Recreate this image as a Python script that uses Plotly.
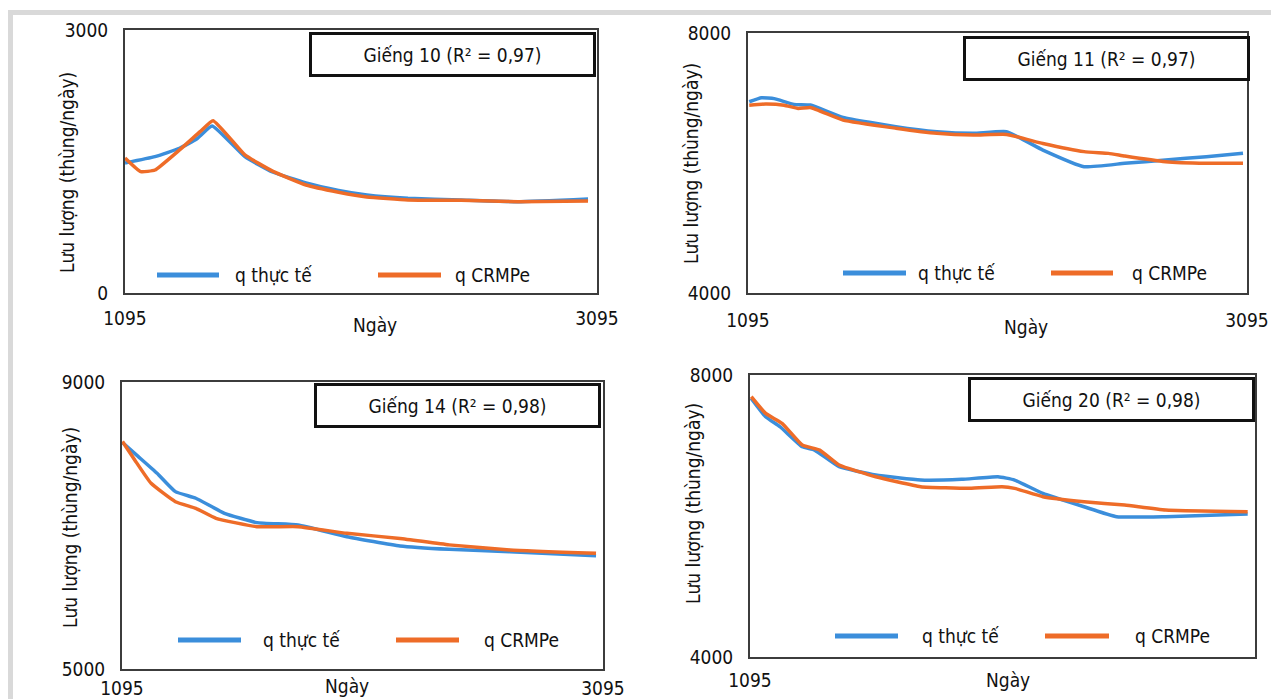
import plotly.graph_objects as go

W, H = 1271, 699

# ---------------- data ----------------
titles = ["Giếng 10 (R² = 0,97)", "Giếng 11 (R² = 0,97)",
          "Giếng 14 (R² = 0,98)", "Giếng 20 (R² = 0,98)"]
series_names = ["q thực tế", "q CRMPe"]
x_title = "Ngày"
y_title = "Lưu lượng (thùng/ngày)"
x_ticks = [1095, 3095]
y_ranges = [[0, 3000], [4000, 8000], [5000, 9000], [4000, 8000]]

w10_day_act = [1095, 1222, 1326, 1400, 1464, 1603, 1720, 1862, 2000, 2120, 2294, 2519, 2760, 3057]
w10_act = [1483, 1555, 1651, 1760, 1905, 1555, 1380, 1255, 1170, 1118, 1080, 1061, 1042, 1073]
w10_day_crm = [1095, 1162, 1222, 1326, 1413, 1468, 1603, 1720, 1862, 2000, 2120, 2294, 2519, 2760, 3057]
w10_crm = [1540, 1384, 1403, 1632, 1840, 1966, 1575, 1390, 1232, 1150, 1095, 1062, 1058, 1042, 1050]

w11_day_act = [1100, 1149, 1200, 1279, 1345, 1476, 1688, 1852, 1999, 2131, 2277, 2442, 2605, 2769, 2932, 3079]
w11_act = [6942, 7004, 6990, 6902, 6892, 6702, 6558, 6481, 6456, 6481, 6199, 5943, 5995, 6046, 6097, 6149]
w11_day_crm = [1100, 1166, 1240, 1296, 1345, 1476, 1688, 1852, 1999, 2131, 2277, 2442, 2540, 2605, 2769, 2932, 3079]
w11_crm = [6890, 6907, 6890, 6840, 6855, 6660, 6535, 6456, 6430, 6440, 6300, 6175, 6148, 6107, 6020, 5995, 5995]

w14_day_act = [1097, 1163, 1241, 1317, 1402, 1521, 1656, 1827, 2030, 2251, 2455, 2708, 3066]
w14_act = [8155, 7960, 7728, 7472, 7380, 7170, 7040, 7007, 6844, 6715, 6668, 6635, 6580]
w14_day_crm = [1097, 1148, 1216, 1317, 1402, 1486, 1656, 1827, 2030, 2251, 2455, 2708, 3066]
w14_crm = [8170, 7913, 7588, 7332, 7240, 7100, 6984, 6984, 6891, 6820, 6730, 6660, 6612]

w20_day_act = [1100, 1157, 1214, 1302, 1351, 1448, 1593, 1771, 1933, 2077, 2143, 2255, 2418, 2547, 2741, 3066]
w20_act = [7668, 7408, 7266, 6982, 6935, 6699, 6581, 6510, 6520, 6557, 6510, 6321, 6131, 5990, 5990, 6028]
w20_day_crm = [1100, 1157, 1222, 1302, 1371, 1448, 1593, 1771, 1965, 2093, 2143, 2255, 2418, 2579, 2741, 3066]
w20_crm = [7692, 7455, 7314, 7006, 6935, 6723, 6557, 6416, 6392, 6415, 6392, 6274, 6203, 6155, 6085, 6061]

wells = [(w10_day_act, w10_act, w10_day_crm, w10_crm),
         (w11_day_act, w11_act, w11_day_crm, w11_crm),
         (w14_day_act, w14_act, w14_day_crm, w14_crm),
         (w20_day_act, w20_act, w20_day_crm, w20_crm)]

# ---------------- layout (pixel positions) ----------------
BLUE = "#3b8edb"
ORANGE = "#ee6c28"
FONT = "Liberation Sans Narrow, DejaVu Sans Condensed, Roboto Condensed, Arial Narrow, sans-serif"
FS = 19

def px(x):
    return x / W

def py(y):
    return 1 - y / H

frames = [(125, 30, 597, 293), (748, 33, 1247, 293), (122, 382, 603, 669), (750, 375, 1255, 657)]
boxes = [(452, 54.5), (1106.5, 58), (457, 405.5), (1111, 399.5)]
xtitle_pos = [(375, 325), (1026, 327), (347, 686), (1008, 680)]
ytitle_pos = [(67, 173), (691, 164), (70, 528), (693, 504)]
# legend: (y, blue x0, blue x1, text1 x, orange x0, orange x1, text2 x)
legends = [(275, 157, 219, 233, 378, 441, 453),
           (273, 843, 906, 916, 1051, 1113, 1130),
           (640, 178, 241, 261, 396, 459, 482),
           (636, 835, 898, 920, 1045, 1109, 1133)]
xtick_len = [7, 9, 1, 5]

fig = go.Figure()
annotations = []
shapes = []

# light gray outer frame bands
shapes.append(dict(type="rect", xref="paper", yref="paper", x0=px(8), x1=px(1271), y0=py(15), y1=py(10),
                   fillcolor="#d9d9d9", line=dict(width=0), layer="below"))
shapes.append(dict(type="rect", xref="paper", yref="paper", x0=px(8), x1=px(13), y0=py(699), y1=py(10),
                   fillcolor="#d9d9d9", line=dict(width=0), layer="below"))

for i, (da, va, dc, vc) in enumerate(wells):
    xa = "x" if i == 0 else f"x{i+1}"
    ya = "y" if i == 0 else f"y{i+1}"
    fig.add_trace(go.Scatter(x=da, y=va, mode="lines", name=series_names[0], showlegend=False,
                             line=dict(color=BLUE, width=3.5, shape="spline", smoothing=0.4),
                             xaxis=xa, yaxis=ya))
    fig.add_trace(go.Scatter(x=dc, y=vc, mode="lines", name=series_names[1], showlegend=False,
                             line=dict(color=ORANGE, width=3.5, shape="spline", smoothing=0.4),
                             xaxis=xa, yaxis=ya))
    l, t, r, b = frames[i]
    axkey = "" if i == 0 else str(i + 1)
    fig.update_layout(**{
        f"xaxis{axkey}": dict(domain=[px(l), px(r)], range=[x_ticks[0], x_ticks[1]], anchor=ya,
                              automargin=False,
                              tickvals=x_ticks, ticktext=[str(v) for v in x_ticks],
                              showline=True, mirror=True, linecolor="#3c3c3c", linewidth=2,
                              ticks="outside", ticklen=xtick_len[i], tickcolor="rgba(0,0,0,0)",
                              showgrid=False, zeroline=False,
                              tickfont=dict(family=FONT, size=FS, color="#111")),
        f"yaxis{axkey}": dict(domain=[py(b), py(t)], range=y_ranges[i], anchor=xa,
                              automargin=False,
                              tickvals=y_ranges[i], ticktext=[str(v) for v in y_ranges[i]],
                              showline=True, mirror=True, linecolor="#3c3c3c", linewidth=2,
                              ticks="outside", ticklen=11, tickcolor="rgba(0,0,0,0)",
                              showgrid=False, zeroline=False,
                              tickfont=dict(family=FONT, size=FS, color="#111")),
    })
    # title box
    bx, by = boxes[i]
    annotations.append(dict(text=titles[i], xref="paper", yref="paper", x=px(bx), y=py(by),
                            xanchor="center", yanchor="middle", showarrow=False,
                            width=281, height=39, borderwidth=3, borderpad=0,
                            bordercolor="#111", bgcolor="white",
                            font=dict(family=FONT, size=FS, color="#111")))
    # axis titles
    tx, ty = xtitle_pos[i]
    annotations.append(dict(text=x_title, xref="paper", yref="paper", x=px(tx), y=py(ty),
                            xanchor="center", yanchor="middle", showarrow=False,
                            font=dict(family=FONT, size=FS, color="#111")))
    tx, ty = ytitle_pos[i]
    annotations.append(dict(text=y_title, xref="paper", yref="paper", x=px(tx), y=py(ty),
                            xanchor="center", yanchor="middle", showarrow=False, textangle=-90,
                            font=dict(family=FONT, size=FS, color="#111")))
    # legend keys
    ly, b0, b1, t1, o0, o1, t2 = legends[i]
    shapes.append(dict(type="line", xref="paper", yref="paper", x0=px(b0), x1=px(b1), y0=py(ly), y1=py(ly),
                       line=dict(color=BLUE, width=5)))
    shapes.append(dict(type="line", xref="paper", yref="paper", x0=px(o0), x1=px(o1), y0=py(ly), y1=py(ly),
                       line=dict(color=ORANGE, width=5)))
    annotations.append(dict(text=series_names[0], xref="paper", yref="paper", x=px(t1), y=py(ly),
                            xanchor="left", yanchor="middle", showarrow=False,
                            font=dict(family=FONT, size=FS, color="#111")))
    annotations.append(dict(text=series_names[1], xref="paper", yref="paper", x=px(t2), y=py(ly),
                            xanchor="left", yanchor="middle", showarrow=False,
                            font=dict(family=FONT, size=FS, color="#111")))

fig.update_layout(width=W, height=H, margin=dict(l=0, r=0, t=0, b=0, autoexpand=False),
                  paper_bgcolor="white", plot_bgcolor="white", showlegend=False,
                  annotations=annotations, shapes=shapes,
                  font=dict(family=FONT, size=FS, color="#111"))

fig.write_html("out.html")
